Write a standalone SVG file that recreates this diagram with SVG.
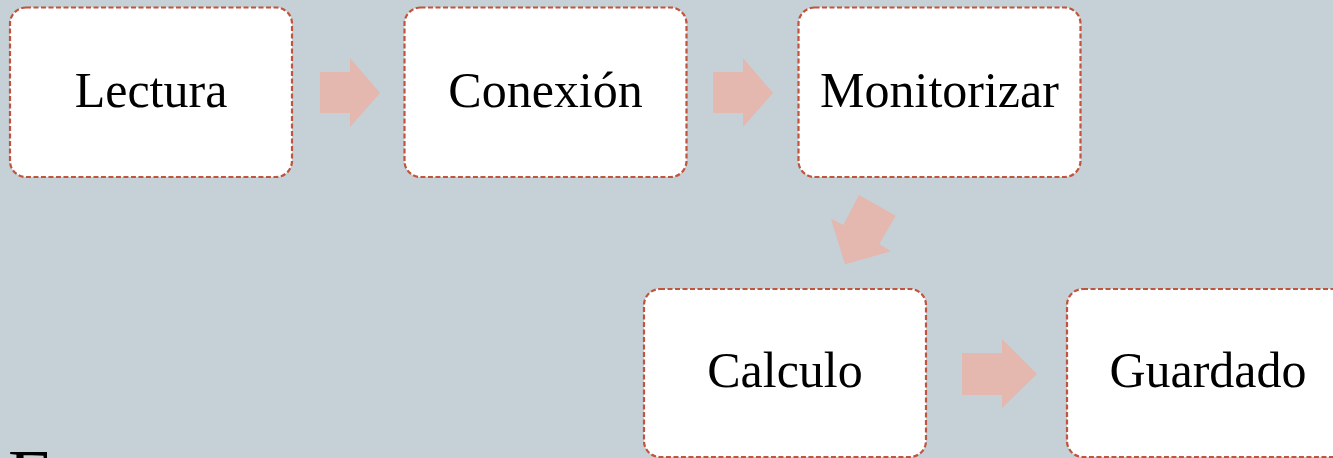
<svg xmlns="http://www.w3.org/2000/svg" width="1333" height="458" viewBox="0 0 1333 458">
<style>
.box{fill:#fff;stroke:#C0543C;stroke-width:2.2;stroke-dasharray:5 2.5}
.lbl{font-family:"Liberation Serif",serif;font-size:50px;fill:#000;text-anchor:middle}
.arr{fill:#E4B7AF}
</style>
<rect width="1333" height="458" fill="#C5D1D7"/>
<g id="connectors">
<polygon class="arr" points="320,72 350,72 350,58 380,93 350,127 350,113 320,113"/>
<polygon class="arr" points="713,72 743,72 743,58 773,93 743,127 743,113 713,113"/>
<polygon class="arr" points="859,195 895.7,215.7 879.3,244 891,251.3 845,264.3 831,218.7 843.3,225"/>
<polygon class="arr" points="962,353 1002,353 1002,339 1037,374 1002,408 1002,395 962,395"/>
</g>
<g id="lectura"><rect class="box" x="10" y="7.5" width="282" height="169.5" rx="16"/><text class="lbl" x="151" y="107">Lectura</text></g>
<g id="conexion"><rect class="box" x="404.5" y="7.5" width="282" height="169.5" rx="16"/><text class="lbl" x="545.5" y="107">Conexión</text></g>
<g id="monitorizar"><rect class="box" x="798.5" y="7.5" width="282" height="169.5" rx="16"/><text class="lbl" x="939.5" y="107">Monitorizar</text></g>
<g id="calculo"><rect class="box" x="644" y="289" width="282" height="168" rx="16"/><text class="lbl" x="785" y="387">Calculo</text></g>
<g id="guardado"><rect class="box" x="1067" y="289" width="282" height="168" rx="16"/><text class="lbl" x="1208" y="387">Guardado</text></g>
<text x="8" y="501" font-family="Liberation Serif,serif" font-size="75" fill="#000">Ent</text>
</svg>
